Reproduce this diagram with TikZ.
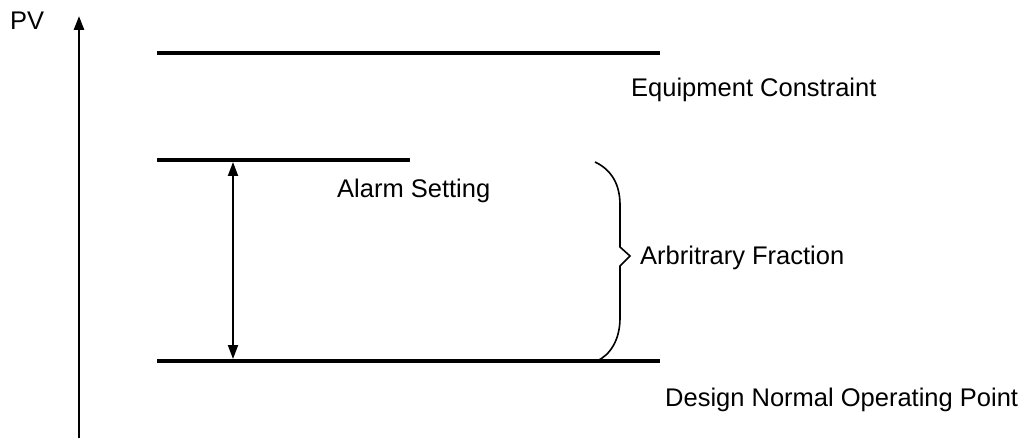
\documentclass[tikz,border=0pt]{standalone}
\usepackage{fontspec}
\setmainfont{Liberation Sans}
\usetikzlibrary{arrows.meta}
\begin{document}
\begin{tikzpicture}[x=1pt,y=-1pt,
  lvl/.style={line width=4pt},
  lbl/.style={anchor=west,inner sep=0pt,font=\fontsize{25.5}{28}\selectfont},
  arr/.style={line width=2.5pt,-{Triangle[length=14pt,width=10pt]}}]
\useasboundingbox (0,0) rectangle (1024,438);
\coordinate (axb) at (79,438);
\coordinate (axt) at (79,16);
\draw[arr] (axb) -- (axt);
\node[lbl] (pv) at (10,21) {PV};
\coordinate (e1) at (157,53); \coordinate (e2) at (660,53);
\draw[lvl] (e1) -- (e2);
\coordinate (a1) at (157,160); \coordinate (a2) at (410,160);
\draw[lvl] (a1) -- (a2);
\coordinate (d1) at (157,361); \coordinate (d2) at (660,361);
\draw[lvl] (d1) -- (d2);
\coordinate (da) at (233,162); \coordinate (db) at (233,359);
\draw[line width=2pt,{Triangle[length=14pt,width=10pt]}-{Triangle[length=14pt,width=10pt]}] (da) -- (db);
\draw[line width=1.6pt] (595,162) .. controls (612,170) and (620,185) .. (620,205)
  -- (620,247) -- (630,256) -- (620,266) -- (620,318)
  .. controls (620,340) and (610,355) .. (597,361);
\node[lbl] (ec) at (631,90) {Equipment Constraint};
\node[lbl] (as) at (337,191) {Alarm Setting};
\node[lbl] (af) at (640,258) {Arbritrary Fraction};
\node[lbl] (dn) at (665,400) {Design Normal Operating Point};
\end{tikzpicture}
\end{document}
